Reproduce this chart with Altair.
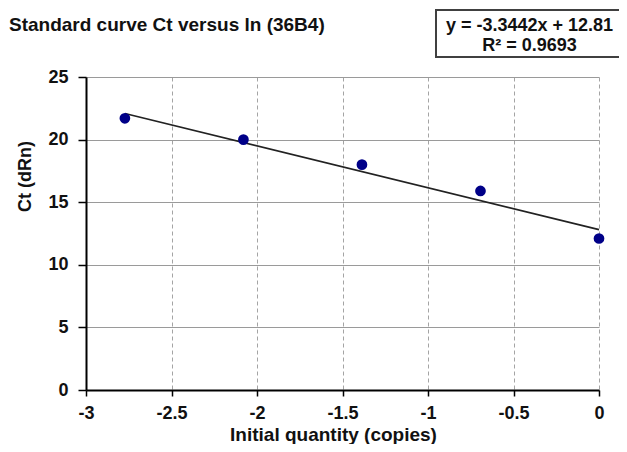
import altair as alt
import pandas as pd

# ---- data ----
log_quantity = [-2.7726, -2.0794, -1.3863, -0.6931, 0.0]
ct_values = [21.7, 20.0, 18.0, 15.9, 12.1]
trend_slope = -3.3442
trend_intercept = 12.81
r_squared = 0.9693
x_ticks = [-3, -2.5, -2, -1.5, -1, -0.5, 0]
y_ticks = [0, 5, 10, 15, 20, 25]

title_text = "Standard curve Ct versus ln (36B4)"
eq_text = f"y = {trend_slope}x + {trend_intercept}\nR\u00b2 = {r_squared}"

FONT = "Liberation Sans"

points = pd.DataFrame({"x": log_quantity, "ct": ct_values})
trend_x = [log_quantity[0], log_quantity[-1]]
trend = pd.DataFrame({"x": trend_x, "ct": [trend_slope * v + trend_intercept for v in trend_x]})

x_enc = alt.X(
    "x:Q",
    scale=alt.Scale(domain=[-3, 0], nice=False, zero=False),
    axis=alt.Axis(
        values=x_ticks,
        labelExpr="datum.value + ''",
        title="Initial quantity (copies)",
        grid=True,
        gridDash=[4, 3],
        gridColor="#a4a4a4",
        gridWidth=1,
        domainColor="black",
        domainWidth=2,
        tickColor="black",
        tickWidth=1.5,
        tickSize=6,
        labelFlush=False,
        labelFont=FONT,
        labelFontSize=18,
        labelFontWeight="bold",
        labelColor="#111111",
        labelPadding=8,
        titleFont=FONT,
        titleFontSize=19,
        titleFontWeight="bold",
        titleColor="#111111",
        titleX=247,
        titleY=50,
        titleBaseline="alphabetic",
        titleAlign="center",
    ),
)
y_enc = alt.Y(
    "ct:Q",
    scale=alt.Scale(domain=[0, 25], nice=False),
    axis=alt.Axis(
        values=y_ticks,
        labelExpr="datum.value + ''",
        title="Ct (dRn)",
        grid=True,
        gridColor="#9a9a9a",
        gridWidth=1.2,
        domainColor="black",
        domainWidth=2,
        tickColor="black",
        tickWidth=1.5,
        tickSize=8,
        labelFont=FONT,
        labelFontSize=18,
        labelFontWeight="bold",
        labelColor="#111111",
        labelPadding=10,
        titleFont=FONT,
        titleFontSize=18,
        titleFontWeight="bold",
        titleColor="#111111",
        titleX=-56,
        titleY=99,
        titleAngle=270,
        titleBaseline="alphabetic",
        titleAlign="center",
    ),
)

line = alt.Chart(trend).mark_line(color="#222222", strokeWidth=1.6).encode(x=x_enc, y=y_enc)
dots = alt.Chart(points).mark_circle(size=115, opacity=1, color="#000088").encode(x=x_enc, y=y_enc)

title_mark = alt.Chart(pd.DataFrame({"t": [title_text]})).mark_text(
    font=FONT, fontSize=19, fontWeight="bold", color="#111111", align="left", baseline="alphabetic"
).encode(x=alt.value(-77), y=alt.value(-46), text="t:N")

box = alt.Chart(pd.DataFrame({"a": [1]})).mark_rect(
    fill="white", stroke="#404040", strokeWidth=2
).encode(x=alt.value(350), x2=alt.value(560), y=alt.value(-67), y2=alt.value(-20))

eq = alt.Chart(pd.DataFrame({"t": [eq_text]})).mark_text(
    font=FONT, fontSize=18, fontWeight="bold", color="#111111", align="center",
    baseline="alphabetic", lineBreak="\n", lineHeight=20
).encode(x=alt.value(443.5), y=alt.value(-46.5), text="t:N")

chart = alt.layer(line, dots, title_mark, box, eq).properties(
    width=513,
    height=313,
    autosize=alt.AutoSizeParams(type="none"),
    padding={"left": 78, "top": 69, "right": 20, "bottom": 54},
).configure_view(stroke=None)

chart.save("out.html", embed_options={"renderer": "svg", "actions": False})
